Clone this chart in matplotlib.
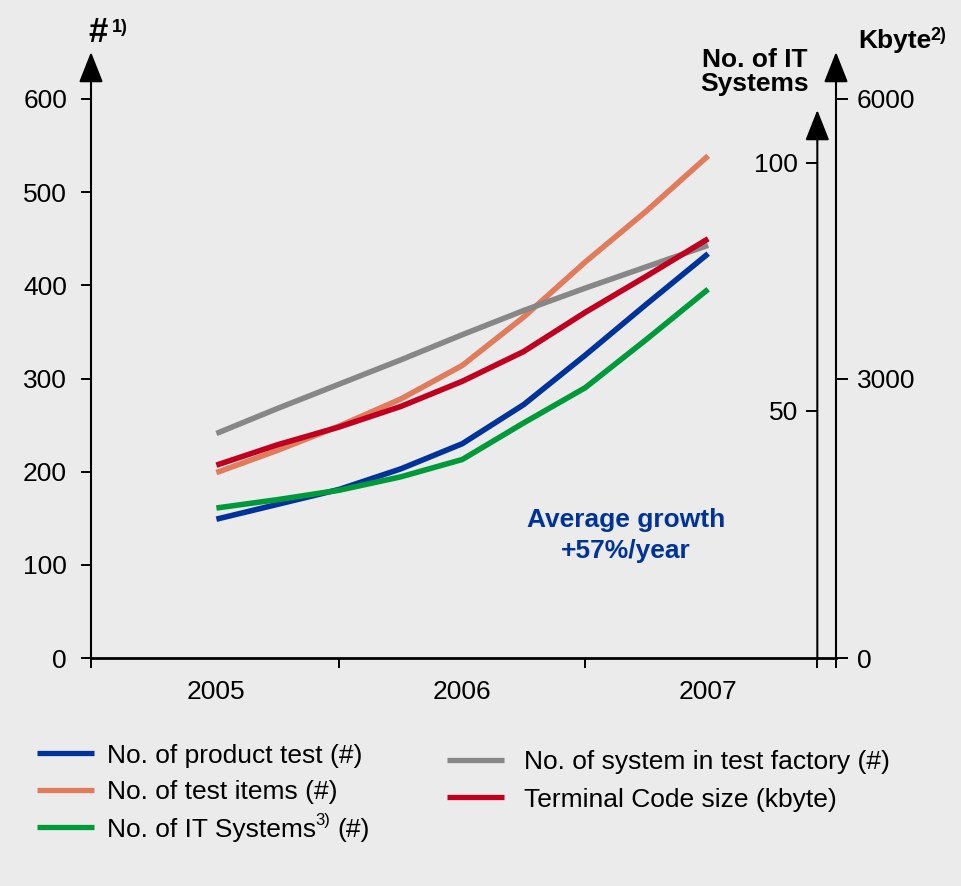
import matplotlib
matplotlib.use("Agg")
import matplotlib.pyplot as plt
from matplotlib.lines import Line2D

plt.rcParams['font.family'] = ['Liberation Sans', 'DejaVu Sans']

# ---------------- data ----------------
years = [2005, 2005.25, 2005.5, 2005.75, 2006, 2006.25, 2006.5, 2006.75, 2007]
product_tests = [149, 165, 181, 203, 230, 272, 325, 380, 434]          # left axis (#)
test_items = [199, 223, 249, 278, 314, 366, 425, 480, 539]             # left axis (#)
systems_test_factory = [241, 268, 294, 320, 347, 373, 397, 420, 443]   # left axis (#)
terminal_code_kbyte = [2070, 2290, 2480, 2700, 2970, 3290, 3710, 4100, 4500]  # Kbyte axis
it_systems = [30.3, 32.0, 33.9, 36.6, 40.1, 47.5, 54.6, 64.4, 74.5]    # IT systems axis

year_labels = ['2005', '2006', '2007']
left_ticks = [0, 100, 200, 300, 400, 500, 600]
kbyte_ticks = [0, 3000, 6000]
it_ticks = [50, 100]

legend_entries = ['No. of product test (#)', 'No. of test items (#)',
                  'No. of IT Systems', 'No. of system in test factory (#)',
                  'Terminal Code size (kbyte)']

# ---------------- style ----------------
BG = '#EBEBEB'
BLUE = '#003399'
ORANGE = '#E07B5C'
GRAY = '#878787'
RED = '#C0001E'
GREEN = '#009A3A'
FS = 19
LW = 4.0

W_PX, H_PX = 961, 886
fig = plt.figure(figsize=(W_PX / 100, H_PX / 100), dpi=100, facecolor=BG)


def px(x, y):
    return x / W_PX, 1 - y / H_PX


# axes geometry: left axis at x=91, Kbyte axis at x=836, zero at y=658
x_left, x_right = 2004.49, 2007.52
x_it = 2007.444
ymax = 660
px_per_unit = (658 - 99) / 600.0
top_px = 658 - ymax * px_per_unit
ax = fig.add_axes([91 / W_PX, (H_PX - 658) / H_PX, (836 - 91) / W_PX,
                   (658 - top_px) / H_PX])
ax.set_xlim(x_left, x_right)
ax.set_ylim(0, ymax)
ax.patch.set_visible(False)
for s in ['top', 'right', 'left']:
    ax.spines[s].set_visible(False)
ax.spines['bottom'].set_linewidth(2.0)

ax.set_xticks([x_left, 2005.5, 2006.5, x_it, x_right])
ax.set_xticklabels([''] * 5)
ax.tick_params(axis='x', which='major', direction='out', length=7.2,
               width=1.4, color='black')
ax.set_xticks([2005, 2006, 2007], minor=True)
ax.set_xticklabels(year_labels, minor=True)
ax.tick_params(axis='x', which='minor', length=0, pad=16, labelsize=FS)
ax.set_yticks(left_ticks)
ax.tick_params(axis='y', direction='out', length=7.2, width=1.4, pad=10,
               labelsize=FS)

# Kbyte axis
ax_k = ax.twinx()
ax_k.set_ylim(0, ymax * 10)
for s in ax_k.spines.values():
    s.set_visible(False)
ax_k.set_yticks(kbyte_ticks)
ax_k.tick_params(axis='y', direction='out', length=8.5, width=1.4, pad=6.5,
                 labelsize=FS)

# IT systems axis
ax_it = ax.twinx()
ax_it.set_ylim(0, ymax * px_per_unit / ((658 - 163) / 100.0))
for s in ax_it.spines.values():
    s.set_visible(False)
ax_it.spines['left'].set_position(('data', x_it))
ax_it.yaxis.tick_left()
ax_it.set_yticks(it_ticks)
ax_it.tick_params(axis='y', direction='out', length=8, width=1.4, pad=5.8,
                  labelsize=FS, left=True, right=False, labelleft=True,
                  labelright=False)

# axis arrows
arrow_style = '-|>,head_length=19,head_width=7.5'
for xa, ytop in [(x_left, (658 - 52) / px_per_unit),
                 (x_right, (658 - 52) / px_per_unit),
                 (x_it, (658 - 110) / px_per_unit)]:
    ax.annotate('', xy=(xa, ytop), xytext=(xa, 0),
                arrowprops=dict(arrowstyle=arrow_style, mutation_scale=1,
                                lw=1.5, color='black', shrinkA=0, shrinkB=0),
                annotation_clip=False)

# data lines
kw = dict(lw=LW, solid_capstyle='butt', solid_joinstyle='round')
ax.plot(years, product_tests, color=BLUE, **kw)
ax.plot(years, test_items, color=ORANGE, **kw)
ax.plot(years, systems_test_factory, color=GRAY, **kw)
ax_k.plot(years, terminal_code_kbyte, color=RED, **kw)
ax_it.plot(years, it_systems, color=GREEN, **kw)

# axis titles
fig.text(*px(88, 42), '#', fontsize=25, fontweight='bold', va='baseline')
fig.text(*px(112, 32), '1)', fontsize=13, fontweight='bold', va='baseline')
fig.text(*px(755, 67), 'No. of IT', fontsize=FS, fontweight='bold',
         ha='center', va='baseline')
fig.text(*px(755, 91), 'Systems', fontsize=FS, fontweight='bold',
         ha='center', va='baseline')
fig.text(*px(858, 48), 'Kbyte', fontsize=FS, fontweight='bold',
         va='baseline')
fig.text(*px(930, 40), '2)', fontsize=13, fontweight='bold', va='baseline')

# annotation
fig.text(*px(626, 527), 'Average growth', fontsize=FS, fontweight='bold',
         color=BLUE, ha='center', va='baseline')
fig.text(*px(626, 558), '+57%/year', fontsize=FS, fontweight='bold',
         color=BLUE, ha='center', va='baseline')

# legend (manual layout)
leg_colors = [BLUE, ORANGE, GREEN, GRAY, RED]
leg_pos = [(37, 107, 753), (37, 107, 790), (37, 107, 827),
           (447, 524, 760), (447, 524, 797)]
for (hx, tx, ty), col, lab in zip(leg_pos, leg_colors, legend_entries):
    x0, y0 = px(hx, ty)
    x1, _ = px(hx + 57, ty)
    fig.add_artist(Line2D([x0, x1], [y0, y0], transform=fig.transFigure,
                          color=col, lw=3.8, solid_capstyle='butt'))
    t = fig.text(*px(tx, ty), lab, fontsize=FS, va='center_baseline')
    if lab == 'No. of IT Systems':
        fig.canvas.draw()
        bb = t.get_window_extent()
        xe = bb.x1 / W_PX
        fig.text(xe - 1 / W_PX, 1 - (ty - 2) / H_PX, '3)', fontsize=12,
                 va='baseline')
        fig.text(xe + 21 / W_PX, y0, '(#)', fontsize=FS, va='center_baseline')

fig.savefig('out.png', dpi=100, facecolor=BG)
